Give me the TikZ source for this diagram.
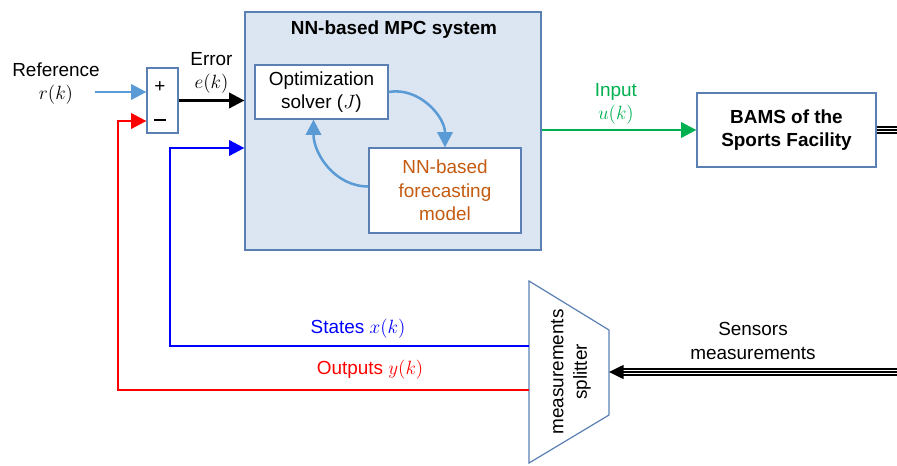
\documentclass[tikz,border=0pt]{standalone}
\usepackage{fontspec}
\setmainfont{Liberation Sans}
\usepackage{amsmath}
\usepackage{xcolor}
\usetikzlibrary{arrows.meta,calc}

\definecolor{boxline}{HTML}{5A7FB2}
\definecolor{mpcfill}{HTML}{DCE6F2}
\definecolor{refblue}{HTML}{5B9BD5}
\definecolor{inputgreen}{HTML}{00B050}
\definecolor{nnorange}{HTML}{C55A11}

\begin{document}
\begin{tikzpicture}[x=0.75pt,y=-0.75pt,
    font=\fontsize{14.2}{17.5}\selectfont,
    block/.style={draw=boxline,line width=0.9pt,fill=white,align=center,inner sep=0pt},
    sig/.style={line width=2pt,-{Triangle[length=11.5pt,width=11.5pt]}},
    tripleline/.style={line width=5.4pt,draw=black,
        postaction={draw=white,line width=3.2pt},
        postaction={draw=black,line width=1.1pt}}]
    \useasboundingbox (0,0) rectangle (897,465);
    %\draw[help lines] (0,0) grid[step=50] (897,465);

    % MPC system
    \node[block,fill=mpcfill,minimum width=222pt,minimum height=178.5pt] (mpc) at (393,131) {};
    \node[font=\fontsize{14.2}{17.5}\selectfont\bfseries] (mpctitle) at (394,30) {NN-based MPC system};
    \node[block,minimum width=99.75pt,minimum height=40.5pt] (optsolver) at (321.5,92) {Optimization\\solver ($J$)};
    \node[block,text=nnorange,minimum width=114pt,minimum height=63.75pt] (nnmodel) at (445,190.5) {NN-based\\forecasting\\model};
    \draw[sig,draw=refblue,line width=1.9pt] (optsolver.east) to[out=10,in=90] (nnmodel.north);
    \draw[sig,draw=refblue,line width=1.9pt] ([yshift=3pt]nnmodel.west) to[out=180,in=270] ([xshift=-6pt]optsolver.south);

    % summing point
    \node[block,minimum width=23.25pt,minimum height=48.75pt] (sum) at (162.5,100.5) {};
    \node (plus) at (160,87) {+};
    \node (minus) at (160,122) {\rule[3pt]{9pt}{1.6pt}};

    \node (reflabel) at (56,70) {Reference};
    \node (refsig) at (56,95) {$r(k)$};
    \coordinate (refin) at (95,92);
    \draw[sig,draw=refblue] (refin) -- (sum.west |- refin);

    \draw[sig,draw=black] (sum.east) --node[above,align=center,yshift=1pt]{Error\\$e(k)$} (mpc.west |- sum.east);

    % plant
    \node[block,font=\fontsize{14.2}{17.5}\selectfont\bfseries,minimum width=134.25pt,minimum height=55.5pt] (bams) at (786.5,130) {BAMS of the\\Sports Facility};
    \draw[sig,draw=inputgreen] (mpc.east |- bams.west) --node[above,align=center,text=inputgreen,pos=0.48]{Input\\$u(k)$} (bams.west);
    \coordinate (bamsout) at (897,130);
    \draw[tripleline] (bams.east) -- (bamsout);

    % splitter
    \coordinate (sp1) at (529,281);
    \coordinate (sp2) at (609,330);
    \coordinate (sp3) at (609,415);
    \coordinate (sp4) at (529,463);
    \draw[boxline,line width=0.9pt] (sp1) -- (sp2) -- (sp3) -- (sp4) -- cycle;
    \node[rotate=90,align=center] (splitter) at (571,372) {measurements\\splitter};

    \coordinate (sensin) at (897,372);
    \coordinate (spin) at (609,372);
    \draw[tripleline,shorten >=10pt] (sensin) -- (spin);
    \draw[line width=1.1pt,-{Triangle[length=11pt,width=10.5pt]}] (sensin) -- (spin);
    \node[align=center] (senslabel) at (753,341) {Sensors\\measurements};

    % feedback
    \coordinate (xout) at (529,346);
    \coordinate (xcorner) at (170,148);
    \draw[sig,draw=blue] (xout) -| (xcorner) -- (mpc.west |- xcorner);
    \node[text=blue] (xlabel) at (358,329) {States $x(k)$};

    \coordinate (yout) at (529,390);
    \coordinate (ycorner) at (118,121);
    \draw[sig,draw=red] (yout) -| (ycorner) -- (sum.west |- ycorner);
    \node[text=red] (ylabel) at (370,370) {Outputs $y(k)$};
\end{tikzpicture}
\end{document}
